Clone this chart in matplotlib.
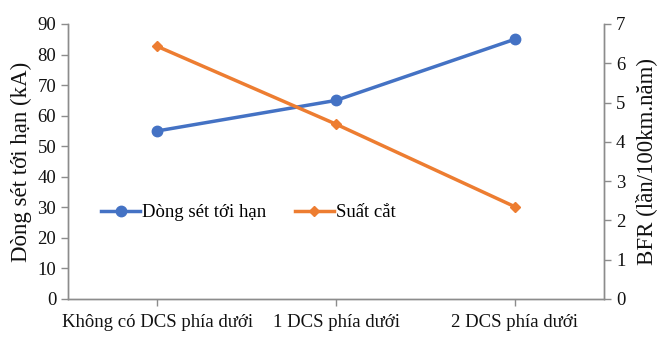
import matplotlib.pyplot as plt
from matplotlib.lines import Line2D

plt.rcParams['font.family'] = ['Liberation Serif', 'DejaVu Serif']

categories = ["Không có DCS phía dưới", "1 DCS phía dưới", "2 DCS phía dưới"]
critical_current = [55, 65, 85]   # kA
bfr = [6.43, 4.45, 2.35]          # lần/100km.năm

blue = "#4472C4"
orange = "#ED7D31"
spine_col = "#8C8C8C"

fig = plt.figure(figsize=(6.69, 3.38), dpi=100)
ax = fig.add_axes([0.1016, 0.1154, 0.8014, 0.8136])
ax2 = ax.twinx()

x = list(range(len(categories)))
ax.plot(x, critical_current, color=blue, lw=2.5, marker="o", ms=7.5, zorder=3)
ax2.plot(x, bfr, color=orange, lw=2.5, marker="D", ms=5.5, zorder=3)

ax.set_xlim(-0.5, 2.5)
ax.set_ylim(0, 90)
ax.set_yticks(range(0, 91, 10))
ax2.set_ylim(0, 7)
ax2.set_yticks(range(0, 8))
ax.set_xticks(x)
ax.set_xticklabels(categories)

for a in (ax, ax2):
    a.spines["top"].set_visible(False)
    for s in ("left", "right", "bottom"):
        a.spines[s].set_color(spine_col)
        a.spines[s].set_linewidth(1.0)
    a.tick_params(colors=spine_col, labelcolor="#111111", labelsize=13.5,
                  length=5, width=1.0)
ax.tick_params(axis="x", pad=6)

ax.set_ylabel("Dòng sét tới hạn (kA)", fontsize=16.5, color="#111111", labelpad=4)
ax2.set_ylabel("BFR (lần/100km.năm)", fontsize=16.5, color="#111111", labelpad=7)

handles = [
    Line2D([], [], color=blue, lw=2.5, marker="o", ms=7.5),
    Line2D([], [], color=orange, lw=2.5, marker="D", ms=5.5),
]
ax.legend(handles, ["Dòng sét tới hạn", "Suất cắt"], loc="center left",
          bbox_to_anchor=(0.03, 0.313), ncol=2, frameon=False, fontsize=13.5,
          handlelength=2.1, handletextpad=0.1, columnspacing=1.5)

fig.savefig("out.png", dpi=100)
